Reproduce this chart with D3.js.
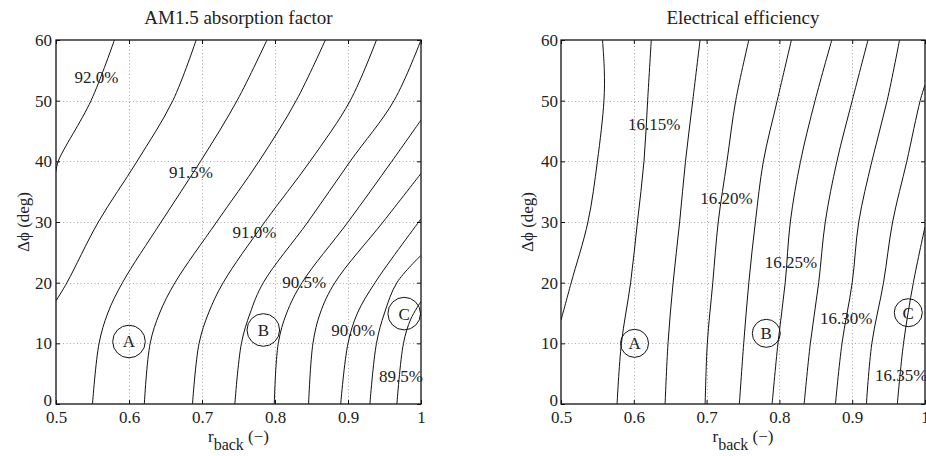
<!DOCTYPE html>
<html><head><meta charset="utf-8">
<script src="https://cdn.jsdelivr.net/npm/d3@7"></script>
<style>
body{margin:0;background:#fff}
svg{display:block}
svg text{font-family:"Liberation Serif","Times New Roman",serif !important;fill:#222}
</style></head>
<body><svg id="c" width="926" height="456"></svg>
<script>
// ---------- data ----------
const rTicks = [0.5, 0.6, 0.7, 0.8, 0.9, 1.0];
const rTickLabels = ["0.5", "0.6", "0.7", "0.8", "0.9", "1"];
const phiTicks = [0, 10, 20, 30, 40, 50, 60];
const phiTickLabels = ["0", "10", "20", "30", "40", "50", "60"];

// AM1.5 absorption factor contour levels (%) and lines as [r_back, dphi]
const absorptionLevels = [92.0, 91.75, 91.5, 91.25, 91.0, 90.75, 90.5, 90.25, 90.0, 89.75, 89.5];
const absorptionContours = [
  [[0.500,38.3],[0.503,40],[0.548,50],[0.580,60]],
  [[0.500,17],[0.515,20],[0.558,30],[0.611,40],[0.660,50],[0.692,60]],
  [[0.550,0],[0.559,10],[0.571,15],[0.591,20],[0.644,30],[0.698,40],[0.748,50],[0.789,60]],
  [[0.621,0],[0.629,10],[0.642,15],[0.663,20],[0.720,30],[0.778,40],[0.829,50],[0.869,60]],
  [[0.687,0],[0.696,10],[0.709,15],[0.729,20],[0.786,30],[0.848,40],[0.903,50],[0.939,60]],
  [[0.745,0],[0.754,10],[0.766,15],[0.784,20],[0.845,30],[0.903,40],[0.963,50],[1.000,60]],
  [[0.799,0],[0.8045,10],[0.816,15],[0.837,20],[0.900,30],[0.960,40],[1.000,46.8]],
  [[0.846,0],[0.852,10],[0.862,15],[0.882,20],[0.948,30],[1.000,38]],
  [[0.890,0],[0.900,10],[0.913,15],[0.937,20],[1.000,30.5]],
  [[0.930,0],[0.939,10],[0.950,15],[0.967,20],[1.000,24.5]],
  [[0.967,0],[0.976,10],[0.986,14],[1.000,16.9]]
];
const absorptionLabels = [
  ["92.0%", 0.5555, 53.9],
  ["91.5%", 0.685, 38.3],
  ["91.0%", 0.772, 28.35],
  ["90.5%", 0.840, 20.1],
  ["90.0%", 0.907, 12.2],
  ["89.5%", 0.9726, 4.6]
];

// Electrical efficiency contour levels (%) and lines as [r_back, dphi]
const efficiencyLevels = [16.125, 16.15, 16.175, 16.20, 16.225, 16.25, 16.275, 16.30, 16.325, 16.35];
const efficiencyContours = [
  [[0.500,13.8],[0.514,20],[0.537,30],[0.550,40],[0.559,50],[0.5595,55],[0.557,60]],
  [[0.577,0],[0.583,10],[0.5956,20],[0.605,30],[0.614,40],[0.619,50],[0.624,60]],
  [[0.643,0],[0.647,10],[0.654,20],[0.663,30],[0.671,40],[0.681,50],[0.691,60]],
  [[0.698,0],[0.701,10],[0.7085,20],[0.716,30],[0.728,40],[0.740,50],[0.758,60]],
  [[0.745,0],[0.751,10],[0.758,20],[0.767,30],[0.778,40],[0.797,50],[0.8165,60]],
  [[0.790,0],[0.798,10],[0.808,20],[0.815,30],[0.829,40],[0.849,50],[0.872,60]],
  [[0.834,0],[0.8425,10],[0.854,20],[0.863,30],[0.879,40],[0.900,50],[0.9217,60]],
  [[0.877,0],[0.886,10],[0.900,20],[0.909,30],[0.927,40],[0.948,50],[0.965,60]],
  [[0.9195,0],[0.927,10],[0.943,20],[0.9555,30],[0.975,40],[0.9934,50],[1.000,52.6]],
  [[0.962,0],[0.9705,10],[0.984,20],[1.000,29.2]]
];
const efficiencyLabels = [
  ["16.15%", 0.628, 46.2],
  ["16.20%", 0.7273, 34.0],
  ["16.25%", 0.8158, 23.45],
  ["16.30%", 0.8919, 14.2],
  ["16.35%", 0.9674, 4.8]
];

// design points A, B, C  [name, r_back, dphi]
const absorptionPoints = [["A", 0.600, 10.3], ["B", 0.784, 12.2], ["C", 0.977, 14.9]];
const efficiencyPoints = [["A", 0.601, 10.0], ["B", 0.782, 11.65], ["C", 0.977, 15.05]];

const titles = ["AM1.5 absorption factor", "Electrical efficiency"];

// ---------- drawing ----------
const FONT = '"Liberation Serif","Times New Roman",serif';
const svg = d3.select("#c");
svg.append("rect").attr("width", 926).attr("height", 456).attr("fill", "#fff");

function drawPanel(cfg) {
  const g = svg.append("g").attr("font-family", FONT);
  const x = d3.scaleLinear().domain([0.5, 1]).range([cfg.left, cfg.right]);
  const y = d3.scaleLinear().domain([0, 60]).range([404, 40]);
  const x0 = x(0.5), x1 = x(1), y0 = y(0), y1 = y(60);

  // grid
  const grid = g.append("g").attr("stroke", "#aaa").attr("stroke-width", 1).attr("stroke-dasharray", "1,2.5");
  grid.selectAll("line.gx").data(rTicks.slice(1, -1)).join("line")
    .attr("x1", d => Math.round(x(d)) + 0.5).attr("x2", d => Math.round(x(d)) + 0.5)
    .attr("y1", y0).attr("y2", y1);
  grid.selectAll("line.gy").data(phiTicks.slice(1, -1)).join("line")
    .attr("y1", d => Math.round(y(d)) + 0.5).attr("y2", d => Math.round(y(d)) + 0.5)
    .attr("x1", x0).attr("x2", x1);

  // clip
  const cid = "clip" + cfg.id;
  svg.append("clipPath").attr("id", cid).append("rect")
    .attr("x", x0).attr("y", y1).attr("width", x1 - x0).attr("height", y0 - y1);

  const line = d3.line().x(d => x(d[0])).y(d => y(d[1])).curve(d3.curveCatmullRom.alpha(0.5));
  g.append("g").attr("clip-path", `url(#${cid})`)
    .selectAll("path").data(cfg.contours).join("path")
    .attr("d", line).attr("fill", "none").attr("stroke", "#111").attr("stroke-width", 1);

  // axes
  const styleAxis = a => {
    a.select(".domain").remove();
    a.attr("font-family", FONT).attr("font-size", 17);
    a.selectAll("text").style("font-family", FONT).style("font-size", "17px").attr("fill", "#222");
    a.selectAll("line").attr("stroke", "#111");
  };
  g.append("g").attr("transform", `translate(0,${y0})`)
    .call(d3.axisBottom(x).tickValues(rTicks).tickFormat((d, i) => rTickLabels[i]).tickSizeInner(-4).tickSizeOuter(0).tickPadding(7))
    .call(styleAxis);
  g.append("g").attr("transform", `translate(0,${y1})`)
    .call(d3.axisTop(x).tickValues(rTicks).tickFormat("").tickSizeInner(-4).tickSizeOuter(0))
    .call(styleAxis);
  g.append("g").attr("transform", `translate(${x0},0)`)
    .call(d3.axisLeft(y).tickValues(phiTicks).tickFormat((d, i) => phiTickLabels[i]).tickSizeInner(-4).tickSizeOuter(0).tickPadding(cfg.ypad))
    .call(styleAxis)
    .call(a => a.selectAll(".tick").filter(d => d === 0).select("text").attr("dy", "0.08em"));
  g.append("g").attr("transform", `translate(${x1},0)`)
    .call(d3.axisRight(y).tickValues(phiTicks).tickFormat("").tickSizeInner(-4).tickSizeOuter(0))
    .call(styleAxis);

  // frame
  g.append("rect").attr("x", x0).attr("y", y1).attr("width", x1 - x0).attr("height", y0 - y1)
    .attr("fill", "none").attr("stroke", "#111").attr("stroke-width", 1.3);

  // contour labels
  g.selectAll("text.cl").data(cfg.labels).join("text")
    .attr("x", d => x(d[1])).attr("y", d => y(d[2])).attr("dy", "0.35em")
    .attr("text-anchor", "middle").style("font-family", FONT).style("font-size", "17px").text(d => d[0]);

  // design points
  const pts = g.selectAll("g.pt").data(cfg.points).join("g")
    .attr("transform", d => `translate(${x(d[1])},${y(d[2])})`);
  pts.append("circle").attr("r", cfg.pr).attr("fill", "none").attr("stroke", "#111").attr("stroke-width", 1);
  pts.append("text").attr("text-anchor", "middle").attr("dy", "0.35em")
    .style("font-family", FONT).style("font-size", "17px").text(d => d[0]);

  // title
  g.append("text").attr("x", (x0 + x1) / 2).attr("y", 24).attr("text-anchor", "middle")
    .style("font-family", FONT).style("font-size", "19px").text(cfg.title);

  // y label
  g.append("text").attr("transform", `translate(${cfg.ylabX},222) rotate(-90)`)
    .attr("text-anchor", "middle").attr("dy", "0.35em")
    .style("font-family", FONT).style("font-size", "17px").text("Δϕ (deg)");

  // x label
  const xl = g.append("text").attr("x", (x0 + x1) / 2).attr("y", 442).attr("text-anchor", "middle")
    .style("font-family", FONT).style("font-size", "17px");
  xl.append("tspan").text("r");
  xl.append("tspan").attr("dy", 8).style("font-size", "16px").text("back");
  xl.append("tspan").attr("dy", -8).text(" (−)");
}

drawPanel({id: 1, left: 56, right: 421, contours: absorptionContours, labels: absorptionLabels,
  points: absorptionPoints, pr: 16.3, title: titles[0], ylabX: 23, ypad: 4});
drawPanel({id: 2, left: 561, right: 925, contours: efficiencyContours, labels: efficiencyLabels,
  points: efficiencyPoints, pr: 14, title: titles[1], ylabX: 527, ypad: 3});
</script>
</body></html>
